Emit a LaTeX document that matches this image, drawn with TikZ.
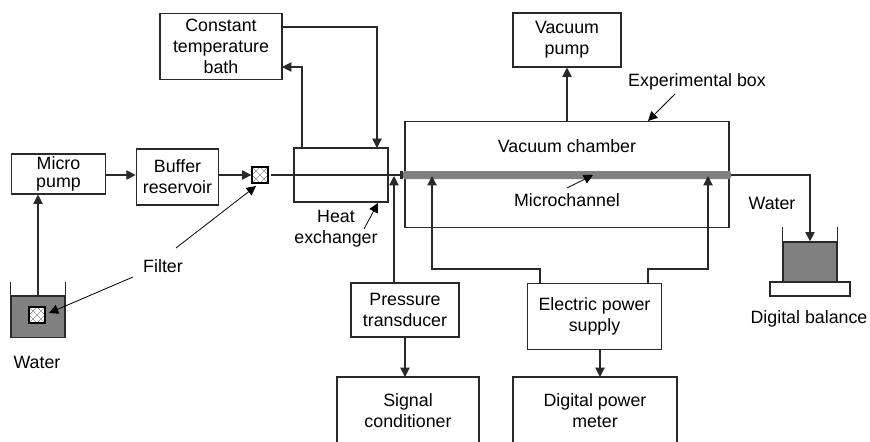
\documentclass[tikz,border=0pt]{standalone}
\usepackage{fontspec}
\setmainfont{Liberation Sans}
\usetikzlibrary{arrows.meta}

\definecolor{lineblk}{rgb}{0.16,0.16,0.16}
\tikzset{
  pbox/.style={draw=lineblk,line width=0.8pt,align=center,inner sep=0pt},
  txt/.style={inner sep=0pt,align=center},
  wtr/.style={draw=lineblk,line width=1pt,fill={rgb,255:red,128;green,128;blue,128},inner sep=0pt},
  filt/.style={draw=black,line width=0.9pt,fill=white,inner sep=0pt,minimum size=12pt,
    path picture={
      \draw [line width=0.25pt,black!70] (path picture bounding box.north west) -- (path picture bounding box.south east);
      \draw [line width=0.25pt,black!70] (path picture bounding box.north east) -- (path picture bounding box.south west);
      \draw [line width=0.25pt,black!70] (path picture bounding box.north) -- (path picture bounding box.east) -- (path picture bounding box.south) -- (path picture bounding box.west) -- cycle;
    }},
  conn/.style={draw=lineblk,line width=0.8pt,-{Triangle[length=7pt,width=7pt]}},
  plain/.style={draw=lineblk,line width=0.8pt},
  lead/.style={draw=black,line width=0.6pt,-{Triangle[length=7pt,width=7pt]}}
}

\begin{document}
\begin{tikzpicture}[x=0.75pt,y=0.75pt,yscale=-1,font=\fontsize{13.35}{15.8}\selectfont]
\useasboundingbox (0,0) rectangle (870,442);

%Boxes
\node (micro) [pbox,minimum width=71pt,minimum height=30pt] at (58.5,174) {Micro\\[-2pt]pump};
\node (buffer) [pbox,minimum width=62pt,minimum height=42pt] at (177.5,177) {Buffer\\reservoir};
\node (bath) [pbox,minimum width=91.5pt,minimum height=50pt] at (221,46.5) {Constant\\temperature\\bath};
\node (hx) [pbox,minimum width=70.5pt,minimum height=40.5pt] at (341,175) {};
\node (vpump) [pbox,minimum width=81pt,minimum height=40.5pt] at (567,40) {Vacuum\\pump};
\node (chamber) [pbox,minimum width=243pt,minimum height=80pt] at (567,174.5) {};
\node (transducer) [pbox,minimum width=81pt,minimum height=40.5pt] at (405,310) {Pressure\\transducer};
\node (supply) [pbox,minimum width=101pt,minimum height=50pt] at (594.5,316.5) {Electric power\\supply};
\node (conditioner) [pbox,minimum width=106.5pt,minimum height=51pt] at (408,411) {Signal\\conditioner};
\node (meter) [pbox,minimum width=123pt,minimum height=51pt] at (595,411) {Digital power\\meter};

%Microchannel
\node (channel) [fill={rgb,255:red,128;green,128;blue,128},rounded corners=1.5pt,minimum width=246pt,minimum height=6pt,inner sep=0pt] at (567,175) {};

%Tanks
\node (tankl) [wtr,minimum width=40.5pt,minimum height=31pt] at (38,316.5) {};
\node (tankr) [wtr,minimum width=40.5pt,minimum height=30pt] at (810,262) {};
\node (balance) [pbox,minimum width=60pt,minimum height=10.5pt] at (810,289) {};
\draw [plain] (tankl.north west) -- ++(0,-13);
\draw [plain] (tankl.north east) -- ++(0,-13);
\draw [plain] (tankr.north west) -- ++(0,-14);
\draw [plain] (tankr.north east) -- ++(0,-14);

%Filters
\node (filtera) [filt] at (260,175) {};
\node (filterb) [filt] at (37,315) {};

% Text Node
\node (vclabel) [txt] at (567,146) {Vacuum chamber};
\node (mclabel) [txt] at (567,200) {Microchannel};
\node (hxlabel) [txt] at (336,229) {Heat\\exchanger};
\node (ebox) [txt] at (697,82) {Experimental box};
\node (filterlabel) [txt] at (163,266) {Filter};
\node (waterl) [txt] at (37,362) {Water};
\node (waterr) [txt] at (772,203) {Water};
\node (ballabel) [txt] at (809,319) {Digital balance};

%Free ends
\coordinate (hxtip) at (378,203);
\coordinate (hxtail) at (364,229);
\coordinate (mctail) at (567,188);
\coordinate (mctip) at (593,175);
\coordinate (ebtail) at (675,94);
\coordinate (ebtip) at (648,121);
\coordinate (ftaila) at (176,248);
\coordinate (ftipa) at (256,186);
\coordinate (ftailb) at (133,277);
\coordinate (ftipb) at (49,313);
\coordinate (bathout) at (282,27);
\coordinate (bathin) at (282,67);
\coordinate (hxin) at (377,148);
\coordinate (hxout) at (302,148);
\coordinate (ptip) at (394,176);
\coordinate (pfoot) at (394,283);
\coordinate (sfootl) at (540,283);
\coordinate (stipl) at (432,176);
\coordinate (sfootr) at (648,283);
\coordinate (stipr) at (708,176);
\coordinate (sdown) at (600,350);
\coordinate (mtop) at (600,377);
\coordinate (pdown) at (405,337);
\coordinate (ctop) at (405,377);

%Connectors
\draw [conn] (tankl.north) -- (tankl.north |- micro.south);
\draw [conn] (micro.east |- filtera) -- (buffer.west |- filtera);
\draw [conn] (buffer.east |- filtera) -- (filtera.west);
\draw [plain,shorten <=1.5pt,-{Bar[width=6pt,line width=2pt]}] (filtera.east) -- (channel.west);
\draw [conn] (bathout) -| (hxin);
\draw [conn] (hxout) |- (bathin);
\draw [conn] (chamber.north) -- (vpump.south);
\draw [conn] (pfoot) -- (ptip);
\draw [conn] (sfootl) |- (432,269) -- (stipl);
\draw [conn] (sfootr) |- (708,269) -- (stipr);
\draw [conn] (pdown) -- (ctop);
\draw [conn] (sdown) -- (mtop);
\draw [conn] (channel.east) -| (tankr.north);

%Leaders
\draw [lead] (ftaila) -- (ftipa);
\draw [lead] (ftailb) -- (ftipb);
\draw [lead] (hxtail) -- (hxtip);
\draw [lead] (mctail) -- (mctip);
\draw [lead] (ebtail) -- (ebtip);
\end{tikzpicture}
\end{document}
